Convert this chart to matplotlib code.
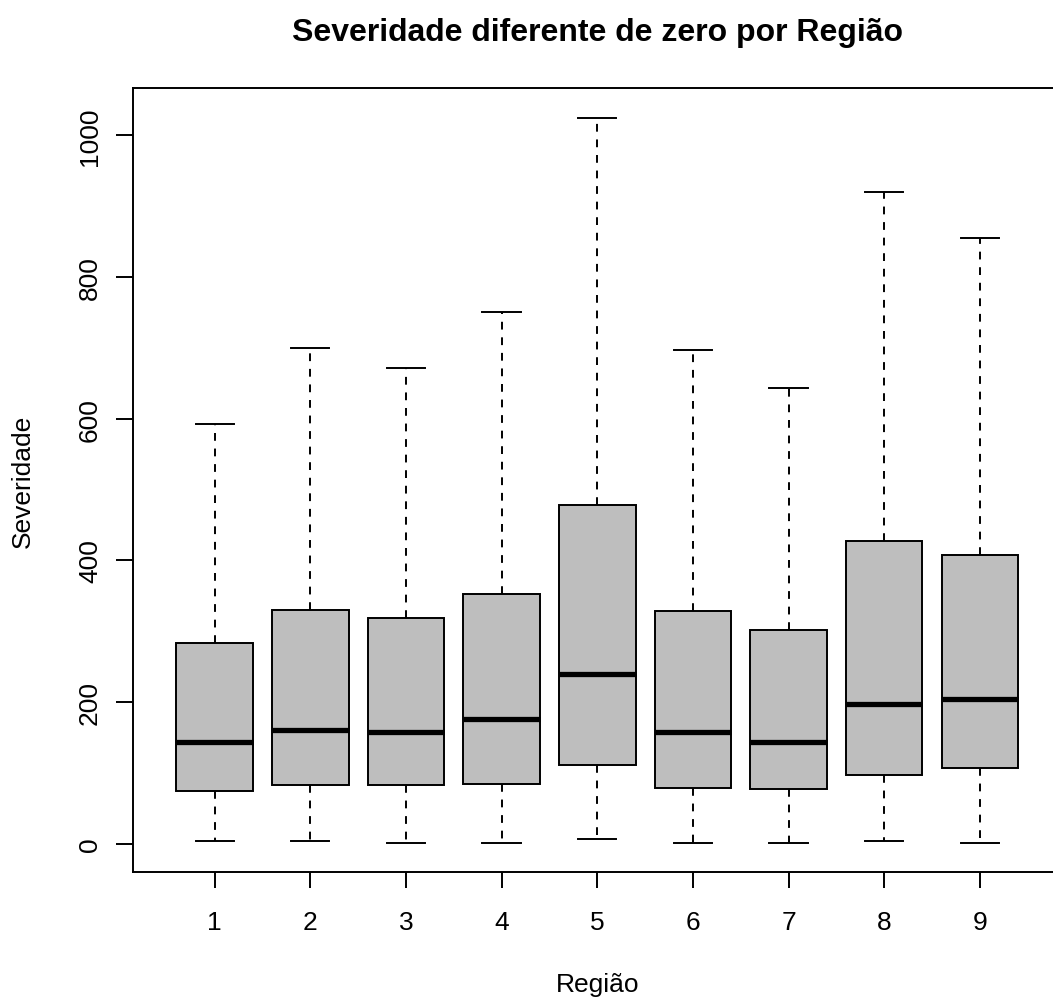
import matplotlib
matplotlib.use("Agg")
import matplotlib.pyplot as plt

plt.rcParams['font.family'] = ['Liberation Sans', 'DejaVu Sans']

regioes = ['1', '2', '3', '4', '5', '6', '7', '8', '9']
whislo = [4, 4, 1, 1, 6, 1, 1, 4, 1]
q1 = [74, 83, 83, 85, 111, 79, 77, 97, 107]
med = [144, 160, 158, 176, 239, 158, 144, 197, 204]
q3 = [283, 330, 318, 352, 478, 328, 302, 427, 407]
whishi = [593, 700, 671, 750, 1025, 697, 643, 920, 855]
yticks = [0, 200, 400, 600, 800, 1000]

stats = []
for i in range(len(regioes)):
    stats.append(dict(label=regioes[i], whislo=whislo[i], q1=q1[i], med=med[i],
                      q3=q3[i], whishi=whishi[i], fliers=[]))

fig = plt.figure(figsize=(10.53, 10.04), dpi=100)
ax = fig.add_axes([132.5 / 1053, 1 - 872.7 / 1004, (1062 - 132.5) / 1053, (872.7 - 89.3) / 1004])

lw = 1.4
pos = list(range(1, len(regioes) + 1))
ax.bxp(stats, positions=pos, widths=0.8, capwidths=0.4, patch_artist=True, showfliers=False,
       boxprops=dict(facecolor='#bebebe', edgecolor='black', linewidth=lw),
       whiskerprops=dict(color='black', linewidth=lw, linestyle=(0, (4, 4))),
       capprops=dict(color='black', linewidth=lw),
       medianprops=dict(color='black', linewidth=3.8, solid_capstyle='butt'))

ax.set_xlim(0.14, 9.86)
ax.set_ylim(-39.5, 1066.5)
ax.set_xticks(pos)
ax.set_xticklabels(regioes)
ax.set_yticks(yticks)
ax.set_yticklabels([str(v) for v in yticks], rotation=90, va='center', ha='right')

for s in ax.spines.values():
    s.set_linewidth(lw)

ax.tick_params(axis='x', length=11.5, width=lw, pad=16, labelsize=19)
ax.tick_params(axis='y', length=12, width=lw, pad=10, labelsize=19)

fig.text(0.5 * (132.5 + 1062) / 1053, 1 - 985 / 1004, 'Região', ha='center', va='center', fontsize=19)
fig.text(23 / 1053, 1 - 481 / 1004, 'Severidade', ha='center', va='center', rotation=90, fontsize=19)
fig.text(597 / 1053, 1 - 33 / 1004, 'Severidade diferente de zero por Região', ha='center', va='center',
         fontsize=23, fontweight='bold')

fig.savefig('out.png', dpi=100)
